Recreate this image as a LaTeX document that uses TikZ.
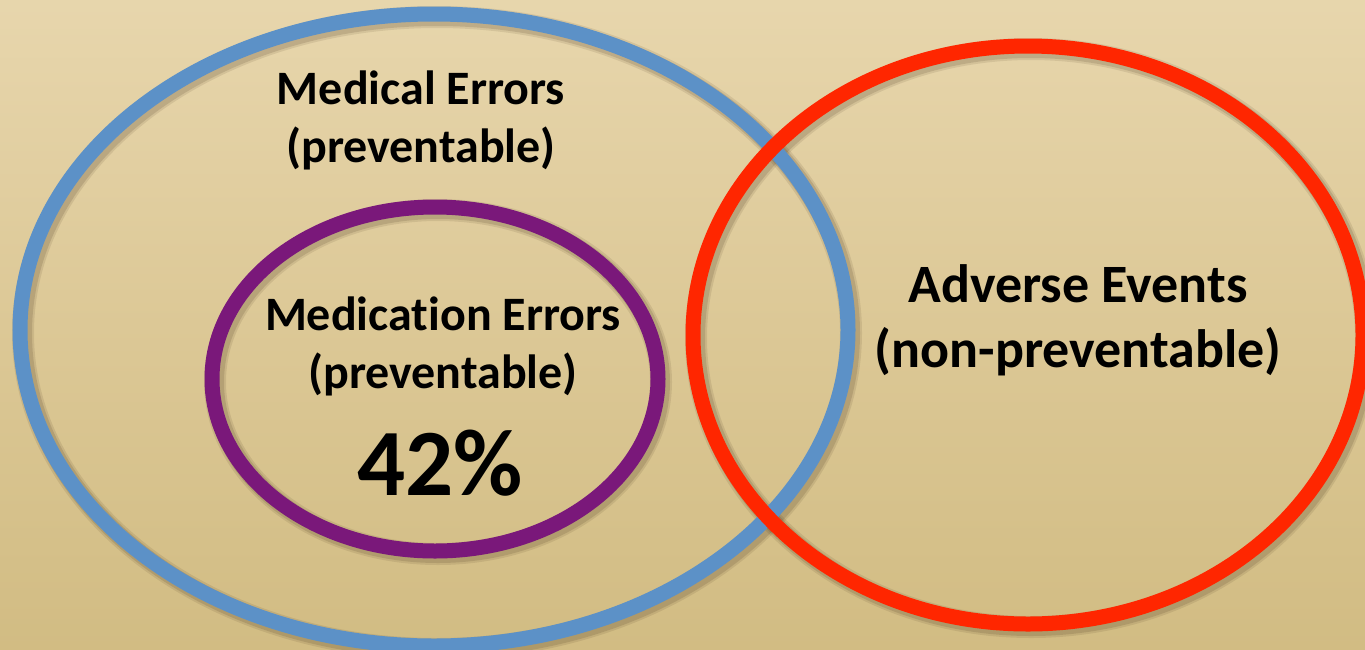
\documentclass[tikz,border=0pt]{standalone}
\usepackage{fontspec}
\setmainfont[Ligatures=NoCommon]{Carlito}
\usetikzlibrary{shapes.geometric}
\definecolor{bgtop}{RGB}{243,228,195}
\definecolor{bgmid}{RGB}{220,200,150}
\definecolor{bgbot}{RGB}{199,176,112}
\definecolor{ringblue}{RGB}{92,145,199}
\definecolor{ringred}{RGB}{255,38,0}
\definecolor{ringpurple}{RGB}{122,24,122}
\tikzset{
  ring/.style={ellipse, inner sep=0pt, line width=15pt},
  ringshadow/.style={ellipse, inner sep=0pt, draw=black!70!brown, draw opacity=0.18},
  label/.style={font=\bfseries\fontsize{48}{58}\selectfont, align=center, text=black},
  biglabel/.style={font=\bfseries\fontsize{54}{65}\selectfont, align=center, text=black},
  big/.style={font=\bfseries\fontsize{95}{100}\selectfont, text=black},
}
\pgfdeclareverticalshading{backdrop}{100bp}{
  color(0bp)=(bgbot); color(50bp)=(bgmid); color(100bp)=(bgtop)}
\begin{document}
\begin{tikzpicture}[x=1pt,y=-1pt]
  % backdrop
  \shade[shading=backdrop] (0,0) rectangle (1365,649);
  \useasboundingbox (0,0) rectangle (1365,649);

  % soft shadows beneath the rings
  \foreach \w/\o in {22/0.10,18/0.14} {
    \node[ringshadow, line width=\w pt, minimum width=828pt, minimum height=632pt, draw opacity=\o] at (437,333) {};
    \node[ringshadow, line width=\w pt, minimum width=670pt, minimum height=578pt, draw opacity=\o] at (1031,338) {};
    \node[ringshadow, line width=\w pt, minimum width=446pt, minimum height=344pt, draw opacity=\o] at (438,382) {};
  }

  % the three sets
  \node[ring, draw=ringblue, minimum width=828pt, minimum height=632pt] (medical) at (434,330) {};
  \node[ring, draw=ringred, minimum width=670pt, minimum height=578pt] (adverse) at (1028,335) {};
  \node[ring, draw=ringpurple, minimum width=446pt, minimum height=344pt] (medication) at (435,379) {};

  % labels
  \node[label] (medicalText) at (421,120) {Medical Errors\\(preventable)};
  \node[label] (medicationText) at (443,346) {Medication Errors\\(preventable)};
  \node[big] (share) at (440,463) {42\%};
  \node[biglabel] (adverseText) at (1078,320) {Adverse Events\\(non-preventable)};
\end{tikzpicture}
\end{document}
